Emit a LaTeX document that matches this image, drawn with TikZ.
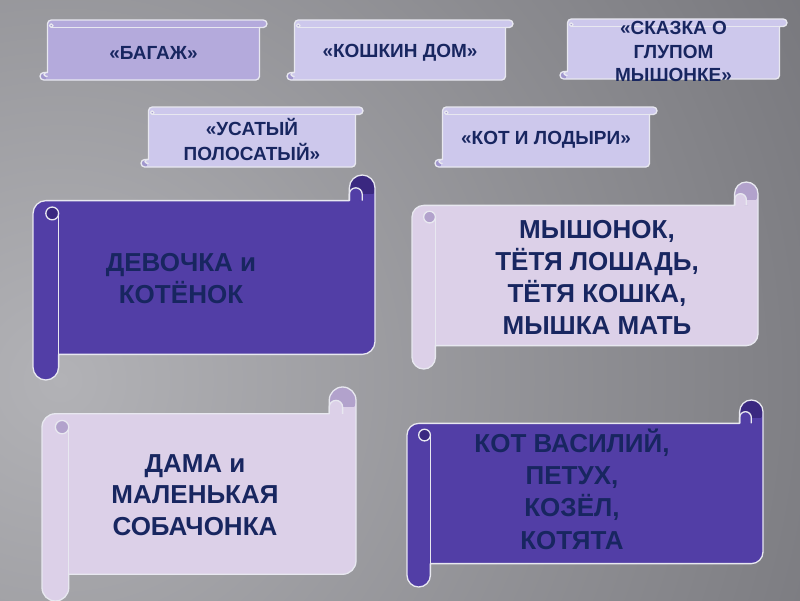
\documentclass[tikz,border=0pt]{standalone}
\usepackage{fontspec}
\setmainfont{Liberation Sans}
\definecolor{bgL}{RGB}{178,178,182}
\definecolor{bgD}{RGB}{82,82,88}
\definecolor{dkfill}{RGB}{82,62,166}
\definecolor{dkcurl}{RGB}{58,40,128}
\definecolor{ltfill}{RGB}{220,208,232}
\definecolor{ltcurl}{RGB}{178,162,204}
\definecolor{bnfill}{RGB}{205,200,236}
\definecolor{bnfillB}{RGB}{180,170,220}
\definecolor{bncurl}{RGB}{160,150,205}
\definecolor{edge}{RGB}{232,232,240}
\definecolor{ink}{RGB}{24,38,96}
\tikzset{
  edgeline/.style={draw=edge, line width=1.3pt, line join=round},
  bigtext/.style={text=ink, font=\fontsize{26}{32}\selectfont\bfseries, align=center, inner sep=0pt},
  smalltext/.style={text=ink, font=\fontsize{19}{24}\selectfont\bfseries, align=center, inner sep=0pt},
}
% horizontal scroll: x0,y0,x1,y1,fill,curl
\newcommand{\bigscroll}[6]{%
  \pgfmathsetmacro{\xa}{#1}\pgfmathsetmacro{\ya}{#2}%
  \pgfmathsetmacro{\xb}{#3}\pgfmathsetmacro{\yb}{#4}%
  \pgfmathsetmacro{\sc}{0.125*min(\xb-\xa,\yb-\ya)}%
  \pgfmathsetmacro{\sh}{\sc/2}\pgfmathsetmacro{\sq}{\sc/4}%
  \def\scrollpath{(\xa,{\ya+\sc+\sh}) arc[start angle=180,end angle=270,radius=\sh]
    -- ({\xb-\sc},{\ya+\sc}) -- ({\xb-\sc},{\ya+\sh})
    arc[start angle=180,end angle=360,radius=\sh]
    -- (\xb,{\yb-\sc-\sh}) arc[start angle=0,end angle=90,radius=\sh]
    -- ({\xa+\sc},{\yb-\sc}) -- ({\xa+\sc},{\yb-\sh})
    arc[start angle=0,end angle=180,radius=\sh] -- cycle}%
  \fill[#5] \scrollpath;
  \fill[#6] ({\xb-\sh},{\ya+\sh}) circle[radius=\sh];
  \fill[#5] ({\xb-\sc},{\ya+\sc}) -- ({\xb-\sc},{\ya+\sh+\sq})
    arc[start angle=180,end angle=360,radius=\sq] -- ({\xb-\sh},{\ya+\sc}) -- cycle;
  \fill[#5] ({\xb-\sh},{\ya+\sh+\sq}) rectangle (\xb,{\ya+\sc});
  \fill[#6] ({\xa+\sc-\sq},{\ya+\sc+\sh}) circle[radius=\sq];
  \draw[edgeline] \scrollpath;
  \draw[edgeline] ({\xa+\sc},{\ya+\sc+\sh}) -- ({\xa+\sc},{\yb-\sc});
  \draw[edgeline] ({\xb-\sc},{\ya+\sc}) -- ({\xb-\sc},{\ya+\sh+\sq})
    arc[start angle=180,end angle=360,radius=\sq] -- ({\xb-\sh},{\ya+\sc});
  \draw[edgeline] ({\xa+\sc-\sq},{\ya+\sc+\sh}) circle[radius=\sq];
}
% vertical scroll: x0,y0,x1,y1,fill,curl
\newcommand{\smallscroll}[6]{%
  \pgfmathsetmacro{\xa}{#1}\pgfmathsetmacro{\ya}{#2}%
  \pgfmathsetmacro{\xb}{#3}\pgfmathsetmacro{\yb}{#4}%
  \pgfmathsetmacro{\sc}{0.125*min(\xb-\xa,\yb-\ya)}%
  \pgfmathsetmacro{\sh}{\sc/2}\pgfmathsetmacro{\sq}{\sc/4}%
  \def\scrollpath{({\xa+\sc},{\ya+\sh}) arc[start angle=180,end angle=270,radius=\sh]
    -- ({\xb-\sh},\ya) arc[start angle=270,end angle=450,radius=\sh]
    -- ({\xb-\sc},{\ya+\sc}) -- ({\xb-\sc},{\yb-\sh})
    arc[start angle=0,end angle=90,radius=\sh]
    -- ({\xa+\sh},\yb) arc[start angle=90,end angle=270,radius=\sh]
    -- ({\xa+\sc},{\yb-\sc}) -- cycle}%
  \fill[#5] \scrollpath;
  \fill[#6] ({\xa+\sh},{\yb-\sh}) circle[radius=\sh];
  \fill[#5] ({\xa+\sc},{\yb-\sc}) -- ({\xa+\sh+\sq},{\yb-\sc})
    arc[start angle=270,end angle=90,radius=\sq] -- ({\xa+\sc},{\yb-\sh}) -- cycle;
  \fill[#5] ({\xa+\sh+\sq},{\yb-\sh}) rectangle ({\xa+\sc},\yb);
  \fill[#6] ({\xa+\sc+\sh},{\ya+\sc-\sq}) circle[radius=\sq];
  \draw[edgeline] \scrollpath;
  \draw[edgeline] ({\xa+\sc+\sh},{\ya+\sc}) -- ({\xb-\sc},{\ya+\sc});
  \draw[edgeline] ({\xa+\sc},{\yb-\sc}) -- ({\xa+\sh+\sq},{\yb-\sc})
    arc[start angle=270,end angle=90,radius=\sq] -- ({\xa+\sc},{\yb-\sh});
  \draw[edgeline] ({\xa+\sc+\sh},{\ya+\sc-\sq}) circle[radius=\sq];
}
\begin{document}
\begin{tikzpicture}[x=1pt,y=-1pt]
\useasboundingbox (0,0) rectangle (800,600);
\begin{scope}
  \clip (0,0) rectangle (800,600);
  \fill[bgD] (0,0) rectangle (800,600);
  \shade[inner color=bgL, outer color=bgD] (60,380) circle[radius=1400];
\end{scope}
% small banners
\smallscroll{40}{20}{267}{80}{bnfillB}{bncurl}
\smallscroll{287}{20}{513}{80}{bnfill}{bncurl}
\smallscroll{560}{19}{787}{79}{bnfill}{bncurl}
\smallscroll{141}{107}{363}{167}{bnfill}{bncurl}
\smallscroll{435}{107}{657}{167}{bnfill}{bncurl}
\node[smalltext] (t1) at (153.5,53) {«БАГАЖ»};
\node[smalltext] (t2) at (400,53) {«КОШКИН ДОМ»};
\node[smalltext, font=\fontsize{19}{23.5}\selectfont\bfseries] (t3) at (673.5,51.5) {«СКАЗКА О\\ГЛУПОМ\\МЫШОНКЕ»};
\node[smalltext, font=\fontsize{19}{25}\selectfont\bfseries] (t4) at (252,139.5) {«УСАТЫЙ\\ПОЛОСАТЫЙ»};
\node[smalltext] (t5) at (546,140) {«КОТ И ЛОДЫРИ»};
% large scrolls
\bigscroll{33}{175}{375}{380}{dkfill}{dkcurl}
\bigscroll{412}{182}{758}{369}{ltfill}{ltcurl}
\bigscroll{42}{387}{356}{601}{ltfill}{ltcurl}
\bigscroll{407}{400}{763}{587}{dkfill}{dkcurl}
\node[bigtext] (tA) at (181,279) {ДЕВОЧКА и\\КОТЁНОК};
\node[bigtext] (tB) at (597,277) {МЫШОНОК,\\ТЁТЯ ЛОШАДЬ,\\ТЁТЯ КОШКА,\\МЫШКА МАТЬ};
\node[bigtext, font=\fontsize{26}{31.5}\selectfont\bfseries] (tC) at (195,495) {ДАМА и\\МАЛЕНЬКАЯ\\СОБАЧОНКА};
\node[bigtext, font=\fontsize{26}{32.3}\selectfont\bfseries] (tD) at (572,489) {КОТ ВАСИЛИЙ,\\ПЕТУХ,\\КОЗЁЛ,\\КОТЯТА};
\end{tikzpicture}
\end{document}
